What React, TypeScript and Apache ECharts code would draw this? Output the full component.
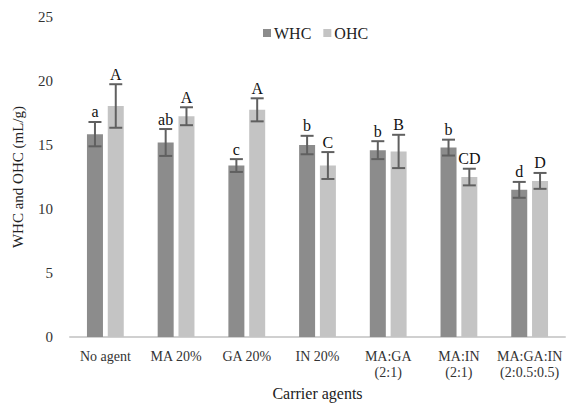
import React, { useEffect, useRef } from "react";
import * as echarts from "echarts";

const categories = ["No agent", "MA 20%", "GA 20%", "IN 20%", "MA:GA\n(2:1)", "MA:IN\n(2:1)", "MA:GA:IN\n(2:0.5:0.5)"];
const whcValues = [15.85, 15.2, 13.4, 15.0, 14.6, 14.8, 11.5];
const whcErrors = [0.95, 1.05, 0.5, 0.72, 0.7, 0.62, 0.62];
const whcLetters = ["a", "ab", "c", "b", "b", "b", "d"];
const ohcValues = [18.05, 17.25, 17.75, 13.4, 14.5, 12.5, 12.2];
const ohcErrors = [1.7, 0.7, 0.9, 1.05, 1.3, 0.65, 0.62];
const ohcLetters = ["A", "A", "A", "C", "B", "CD", "D"];
const yTicks = [0, 5, 10, 15, 20, 25];

const FONT = "'Liberation Serif', 'Times New Roman', serif";
const WHC_COLOR = "#8c8c8c";
const OHC_COLOR = "#c4c4c4";
const ERR_COLOR = "#606060";
const BAR_W = 16;
const BAR_GAP = 0.3;

function errorSeries(name: string, values: number[], errors: number[], letters: string[], side: number) {
  const data = values.map((v, i) => [i, v, errors[i], letters[i]]);
  return {
    type: "custom",
    name: name + "-err",
    z: 10,
    silent: true,
    data,
    encode: { x: 0, y: 1 },
    renderItem: (params: any, api: any) => {
      const i = api.value(0);
      const v = api.value(1);
      const e = api.value(2);
      const idx = params.dataIndex;
      const letter = data[idx][3] as string;
      const offset = side * (BAR_W + BAR_W * BAR_GAP) / 2;
      const top = api.coord([i, v + e]);
      const bot = api.coord([i, v - e]);
      const x = top[0] + offset;
      const cap = 6.5;
      const style = { stroke: ERR_COLOR, lineWidth: 2 };
      return {
        type: "group",
        children: [
          { type: "line", shape: { x1: x, y1: top[1], x2: x, y2: bot[1] }, style },
          { type: "line", shape: { x1: x - cap, y1: top[1], x2: x + cap, y2: top[1] }, style },
          { type: "line", shape: { x1: x - cap, y1: bot[1], x2: x + cap, y2: bot[1] }, style },
          {
            type: "text",
            x,
            y: top[1] - 10,
            style: {
              text: letter,
              x: 0,
              y: 0,
              align: "center",
              verticalAlign: "middle",
              font: `16px ${FONT}`,
              fill: "#111",
            },
          },
        ],
      };
    },
  };
}

export default function App() {
  const ref = useRef<HTMLDivElement>(null);
  useEffect(() => {
    if (!ref.current) return;
    const chart = echarts.init(ref.current, undefined, { renderer: "svg" });
    chart.setOption({
      animation: false,
      backgroundColor: "#ffffff",
      textStyle: { fontFamily: FONT },
      legend: {
        top: 20,
        left: 258,
        itemWidth: 8,
        itemHeight: 8,
        itemGap: 12,
        icon: "rect",
        textStyle: { fontFamily: FONT, fontSize: 16, color: "#222", padding: [0, 0, 0, -2] },
        data: ["WHC", "OHC"],
      },
      grid: { left: 70, right: 9, top: 17, bottom: 64 },
      xAxis: {
        type: "category",
        data: categories,
        name: "Carrier agents",
        nameLocation: "middle",
        nameGap: 46,
        nameTextStyle: { fontFamily: FONT, fontSize: 16, color: "#222" },
        axisLine: { lineStyle: { color: "#d0d0d0", width: 2 } },
        axisTick: { show: false },
        axisLabel: { interval: 0, fontFamily: FONT, fontSize: 14, color: "#333", margin: 11, lineHeight: 16 },
      },
      yAxis: {
        type: "value",
        min: 0,
        max: yTicks[yTicks.length - 1],
        interval: 5,
        name: "WHC and OHC (mL/g)",
        nameLocation: "middle",
        nameGap: 45,
        nameTextStyle: { fontFamily: FONT, fontSize: 15, color: "#222" },
        axisLine: { show: false },
        axisTick: { show: false },
        splitLine: { show: false },
        axisLabel: { fontFamily: FONT, fontSize: 15, color: "#333", margin: 17 },
      },
      series: [
        { type: "bar", name: "WHC", data: whcValues, barWidth: BAR_W, barGap: "30%", itemStyle: { color: WHC_COLOR } },
        { type: "bar", name: "OHC", data: ohcValues, barWidth: BAR_W, barGap: "30%", itemStyle: { color: OHC_COLOR } },
        errorSeries("WHC", whcValues, whcErrors, whcLetters, -1),
        errorSeries("OHC", ohcValues, ohcErrors, ohcLetters, 1),
      ],
    });
    return () => chart.dispose();
  }, []);
  return <div ref={ref} style={{ position: "fixed", left: 0, top: 0, width: 574, height: 406 }} />;
}
